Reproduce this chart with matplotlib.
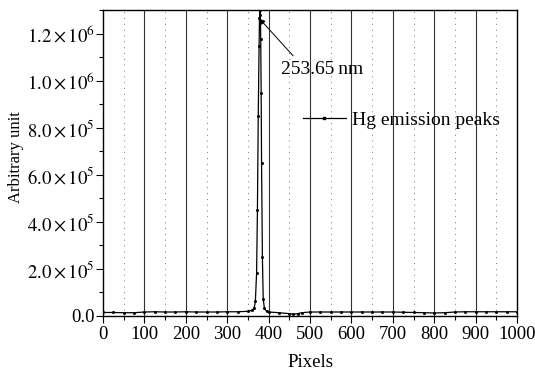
import matplotlib
matplotlib.use("Agg")
import matplotlib.pyplot as plt
from matplotlib.ticker import MultipleLocator, FuncFormatter
import math

# ---- data ----
pixels = [0, 25, 50, 75, 100, 125, 150, 175, 200, 225, 250, 275, 300, 325,
          350, 360, 365, 368, 371, 373, 375, 377, 378, 379, 380, 381, 382,
          383, 385, 387, 390, 395, 400, 425, 450, 460, 470, 480, 500, 525,
          550, 575, 600, 625, 650, 675, 700, 725, 750, 775, 800, 825, 850,
          875, 900, 925, 950, 975, 1000]
intensity = [1.3e4, 1.3e4, 1.2e4, 1.2e4, 1.5e4, 1.6e4, 1.5e4, 1.5e4, 1.6e4,
             1.5e4, 1.5e4, 1.5e4, 1.6e4, 1.6e4,
             1.8e4, 2.2e4, 3.0e4, 6.0e4, 1.8e5, 4.5e5, 8.5e5, 1.15e6, 1.27e6,
             1.30e6, 1.28e6, 1.18e6, 9.5e5, 6.5e5, 2.5e5, 7.0e4, 3.0e4, 1.8e4,
             1.5e4, 1.2e4, 0.8e4, 0.6e4, 0.8e4, 1.2e4, 1.5e4, 1.5e4,
             1.5e4, 1.5e4, 1.5e4, 1.5e4, 1.5e4, 1.5e4, 1.5e4, 1.4e4, 1.3e4,
             1.2e4, 1.1e4, 1.2e4, 1.5e4, 1.6e4, 1.6e4, 1.6e4, 1.6e4, 1.6e4, 1.6e4]
series_label = "Hg emission peaks"
peak_label = "253.65\u2009nm"
x_label = "Pixels"
y_label = "Arbitrary unit"
y_ticks = [0.0, 2.0e5, 4.0e5, 6.0e5, 8.0e5, 1.0e6, 1.2e6]

plt.rcParams['font.family'] = ['Liberation Serif', 'DejaVu Serif']
plt.rcParams['mathtext.fontset'] = 'stix'

fig = plt.figure(figsize=(5.35, 3.75), dpi=100)
ax = fig.add_axes([103/535, 1-316/375, (517-103)/535, (316-10)/375])

# grid lines (vertical)
for gx in range(100, 1000, 100):
    ax.axvline(gx, color='#333333', lw=0.8, zorder=0)
for gx in range(50, 1000, 100):
    ax.axvline(gx, color='#777777', lw=0.7, ls=(0, (1, 5)), zorder=0)

ax.plot(pixels, intensity, color='black', lw=0.9, marker='s', markersize=1.0,
        label=series_label)

ax.set_xlim(0, 1000)
ax.set_ylim(-2.0e3, 1.302e6)
ax.xaxis.set_major_locator(MultipleLocator(100))
ax.xaxis.set_minor_locator(MultipleLocator(50))
ax.set_yticks(y_ticks)
ax.yaxis.set_minor_locator(MultipleLocator(1e5))

def yfmt(v, pos):
    if v == 0:
        return "0.0"
    e = int(math.floor(math.log10(abs(v)) + 1e-9))
    m = v / 10**e
    return r"$%.1f\times10^{%d}$" % (m, e)

ax.yaxis.set_major_formatter(FuncFormatter(yfmt))
ax.tick_params(axis='both', which='major', direction='out', length=5, width=0.8,
               labelsize=13.5)
ax.tick_params(axis='x', which='major', pad=2)
ax.tick_params(axis='y', which='major', pad=1)
ax.tick_params(axis='both', which='minor', direction='out', length=3, width=0.8)
for s in ax.spines.values():
    s.set_linewidth(1.0)

ax.set_xlabel(x_label, fontsize=13.5, labelpad=8)
ax.set_ylabel(y_label, fontsize=12)
ax.yaxis.set_label_coords(-0.192, 0.52)

ax.annotate(peak_label, xy=(378, 1.265e6), xytext=(430, 1.05e6),
            fontsize=14, ha='left', va='center',
            arrowprops=dict(arrowstyle='-|>', color='black', lw=0.7,
                            mutation_scale=8, shrinkA=2, shrinkB=0,
                            relpos=(0.2, 1.0)))

leg = ax.legend(loc='center left', bbox_to_anchor=(303/535, 1-120/375),
                bbox_transform=fig.transFigure, frameon=False, fontsize=14,
                borderpad=0, borderaxespad=0, handlelength=2.2,
                handletextpad=0.3, markerscale=1.8)

fig.savefig("out.png", dpi=100)
